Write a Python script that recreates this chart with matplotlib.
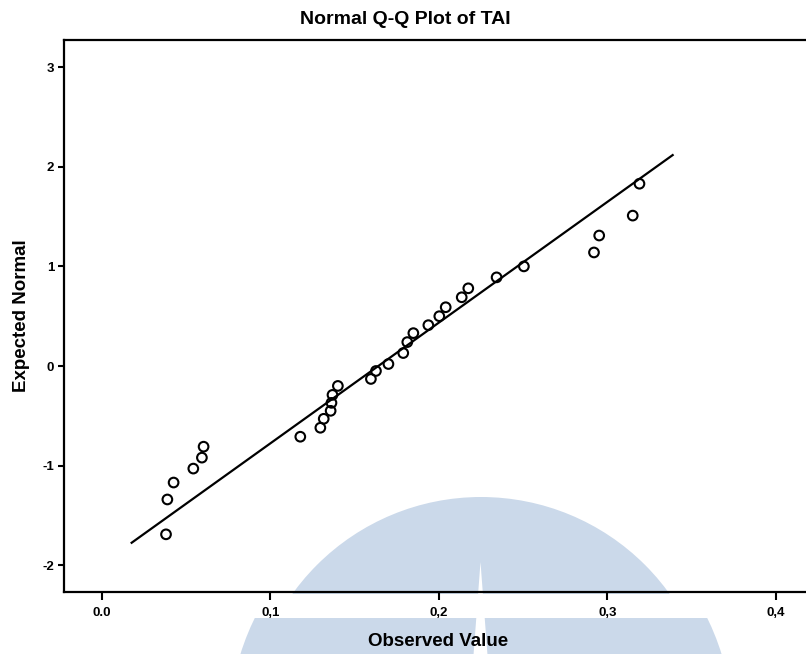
import matplotlib
matplotlib.use("Agg")
import matplotlib.pyplot as plt
from matplotlib.patches import Ellipse, Rectangle, Polygon
import numpy as np

# ---- data ----
observed = [0.0380, 0.0388, 0.0425, 0.0542, 0.0593, 0.0603, 0.1177, 0.1296,
            0.1316, 0.1357, 0.1362, 0.1368, 0.1400, 0.1596, 0.1626, 0.1700,
            0.1788, 0.1812, 0.1848, 0.1937, 0.2002, 0.2040, 0.2135, 0.2174,
            0.2342, 0.2504, 0.2920, 0.2951, 0.3150, 0.3190]
expected = [-1.69, -1.34, -1.17, -1.03, -0.92, -0.81, -0.71, -0.62,
            -0.53, -0.45, -0.37, -0.29, -0.20, -0.13, -0.05, 0.02,
            0.13, 0.24, 0.33, 0.41, 0.50, 0.59, 0.69, 0.78,
            0.89, 1.00, 1.14, 1.31, 1.51, 1.83]
line_x = [0.0176, 0.3387]
fit_mean = 0.1640
fit_sd = 0.0825
xticks = [0.0, 0.1, 0.2, 0.3, 0.4]
xticklabels = ["0.0", "0,1", "0,2", "0,3", "0,4"]
yticks = [-2, -1, 0, 1, 2, 3]
yticklabels = ["-2", "-1", "0", "1", "2", "3"]

W, H = 806, 654
fig = plt.figure(figsize=(W / 100, H / 100), dpi=100)
fig.patch.set_facecolor("white")

plt.rcParams['font.family'] = ['Liberation Sans', 'DejaVu Sans']


def fx(px):
    return px / W


def fy(py):
    return 1 - py / H


# ---- watermark (light blue dome) ----
wm = "#cbd9ea"
cx, cy = 481, 729
upper = Ellipse((fx(cx), fy(cy)), 2 * 232 / W, 2 * 232 / H, transform=fig.transFigure,
                facecolor=wm, edgecolor="none", zorder=-10)
fig.patches.append(upper)
lower = Ellipse((fx(cx), fy(cy)), 2 * 252 / W, 2 * 252 / H, transform=fig.transFigure,
                facecolor=wm, edgecolor="none", zorder=-9)
clip = Rectangle((0, 0), 1, fy(618), transform=fig.transFigure)
lower.set_clip_path(clip)
fig.patches.append(lower)
band = Rectangle((fx(150), fy(618)), fx(700), fy(594) - fy(618), transform=fig.transFigure,
                 facecolor="white", edgecolor="none", zorder=-8)
fig.patches.append(band)
spike = Polygon([(fx(480.5), fy(562)), (fx(473.5), fy(655)), (fx(487.5), fy(655))],
                closed=True, transform=fig.transFigure, facecolor="white",
                edgecolor="none", zorder=-7)
fig.patches.append(spike)

# ---- axes ----
left, right, top, bottom = 64, 812, 40, 592
ax = fig.add_axes([fx(left), fy(bottom), (right - left) / W, (bottom - top) / H])
ax.set_facecolor("none")

ax.scatter(observed, expected, s=48, facecolors="none", edgecolors="black",
           linewidths=1.5, zorder=3)
ly = [(v - fit_mean) / fit_sd for v in line_x]
ax.plot(line_x, ly, color="black", lw=1.6, zorder=2)

ax.set_xlim(-0.02255, 0.4214)
ax.set_ylim(-2.269, 3.273)
ax.set_xticks(xticks)
ax.set_xticklabels(xticklabels)
ax.set_yticks(yticks)
ax.set_yticklabels(yticklabels)

for s in ax.spines.values():
    s.set_linewidth(1.6)
    s.set_color("black")

ax.tick_params(axis="x", direction="out", length=6, width=1.5, pad=5,
               labelsize=9.5)
ax.tick_params(axis="y", direction="out", length=4, width=1.5, pad=3,
               labelsize=9.5)
for lab in ax.get_xticklabels() + ax.get_yticklabels():
    lab.set_fontweight("bold")

ax.set_xlabel("Observed Value", fontsize=13.5, fontweight="bold", labelpad=10)
ax.set_ylabel("Expected Normal", fontsize=13.5, fontweight="bold", labelpad=9)

fig.text(fx(405), fy(19), "Normal Q-Q Plot of TAI", ha="center", va="center",
         fontsize=14, fontweight="bold")

fig.savefig("out.png", dpi=100, facecolor="white")
